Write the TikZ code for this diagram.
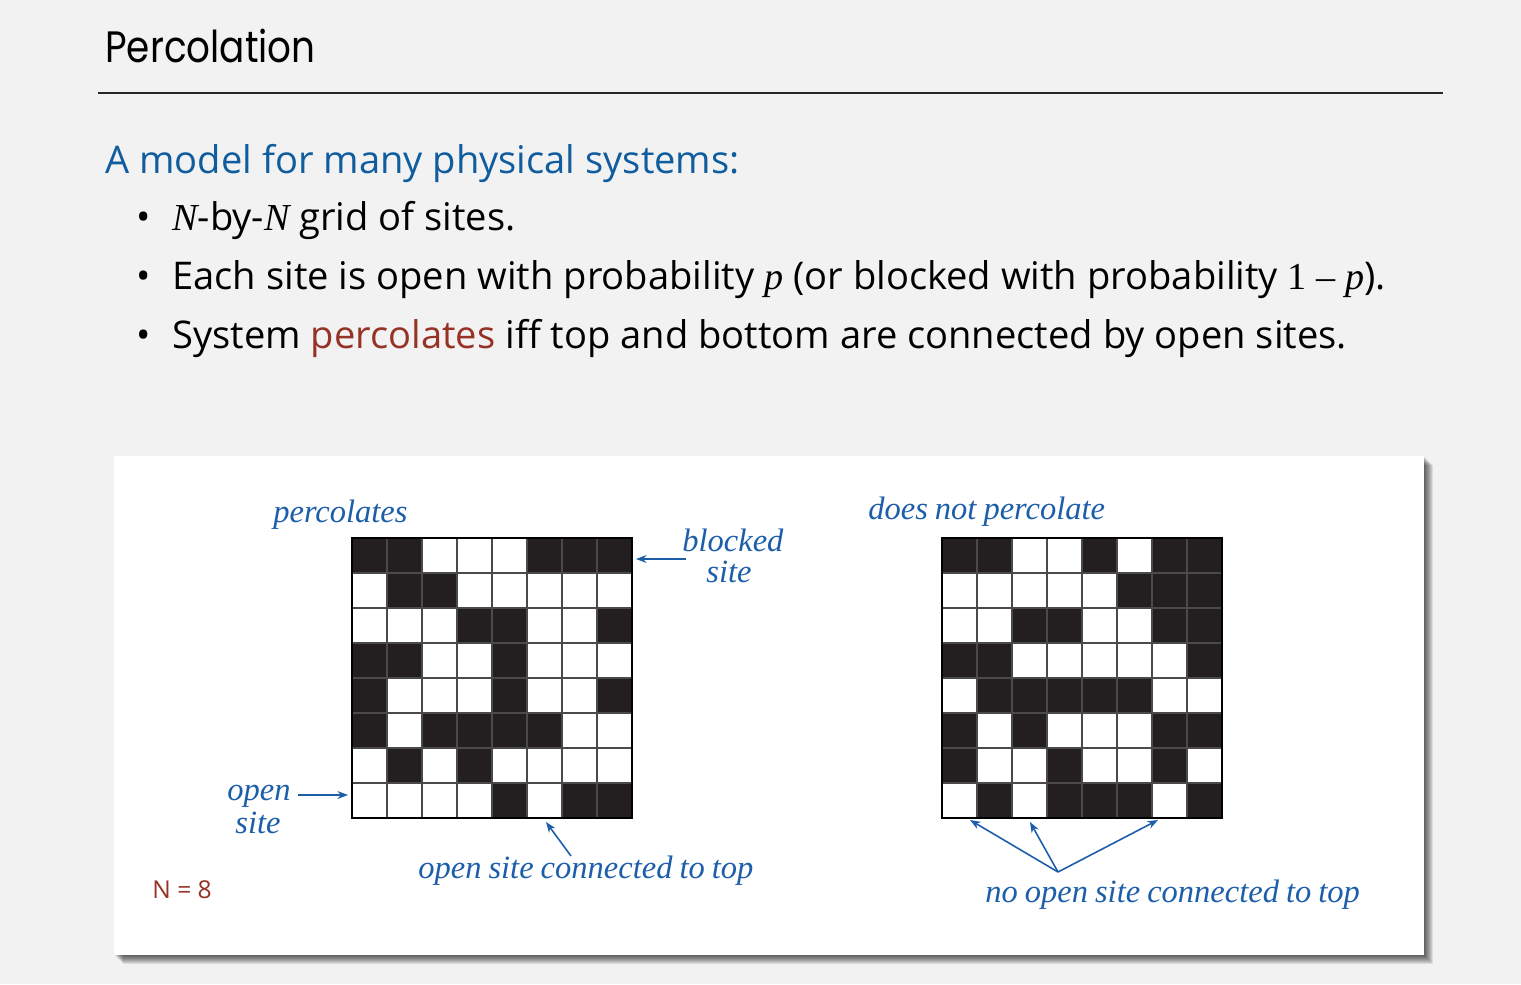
\documentclass[tikz,border=0pt]{standalone}
\usepackage{fontspec}
\setsansfont{Open Sans}
\newfontfamily\titlefont[FakeStretch=0.85]{Poppins}
\newfontfamily\tms{Liberation Serif}
\usetikzlibrary{arrows.meta}
\definecolor{bg}{HTML}{F2F2F2}
\definecolor{headblue}{HTML}{0F5C9E}
\definecolor{labblue}{HTML}{1D5EAB}
\definecolor{brickred}{HTML}{963226}
\definecolor{cell0}{HTML}{FFFFFF}
\definecolor{cell1}{HTML}{231F20}
\definecolor{gridline}{HTML}{4A4A4A}
\newcommand{\labfont}{\tms\itshape\fontsize{18.5}{21}\selectfont\spaceskip=4pt plus 1pt minus 1pt\relax}
\tikzset{
  body/.style={anchor=base west, inner sep=0pt, font=\sffamily\fontsize{21.7}{25}\selectfont},
  bul/.style={anchor=base west, inner sep=0pt, font=\sffamily\fontsize{21.7}{25}\selectfont},
  lab/.style={inner sep=0pt, text=labblue, font=\labfont},
  arr/.style={draw=labblue, line width=0.9pt, -{Stealth[length=6pt,width=4.5pt]}},
}
\newcommand{\perco}[3]{% x0, y0, rows
  \foreach \r/\row in {#3} {
    \foreach \v [count=\c from 0] in \row {
      \fill[cell\v] ({#1+35*\c},{#2+35*\r}) rectangle ++(35,35);
    }
  }
  \foreach \i in {1,...,7} {
    \draw[gridline, line width=0.8pt] ({#1+35*\i},#2) -- ++(0,280);
    \draw[gridline, line width=0.8pt] (#1,{#2+35*\i}) -- ++(280,0);
  }
  \draw[black, line width=1.1pt] (#1,#2) rectangle ++(280,280);
}
\begin{document}
\begin{tikzpicture}[x=0.02cm,y=-0.02cm]
\fill[bg] (0,0) rectangle (1521,984);
\useasboundingbox (0,0) rectangle (1521,984);
% header
\node[anchor=base west, inner sep=0pt, font=\titlefont\fontsize{25}{30}\selectfont] (title) at (105,62) {Percolation};
\draw[line width=0.9pt, black!85] (98,93) -- (1443,93);
\node[body, text=headblue] (intro) at (105,173) {A model for many physical systems:};
\node[bul] (b1) at (136,230) {\textbullet};
\node[body] (t1) at (172,230) {{\tms\itshape N}-by-{\tms\itshape N} grid of sites.};
\node[bul] (b2) at (136,289) {\textbullet};
\node[body] (t2) at (172,289) {Each site is open with probability {\tms\itshape p} (or blocked with probability {\tms 1 – \itshape p}).};
\node[bul] (b3) at (136,348) {\textbullet};
\node[body] (t3) at (172,348) {System \textcolor{brickred}{percolates} iff top and bottom are connected by open sites.};
% panel with shadow
\foreach \k in {1,...,9} {
  \fill[black, opacity=0.09] ({114+\k},{456+\k}) rectangle ({1424+\k},{955+\k});
}
\fill[white] (114,456) rectangle (1424,955);
% grids
\perco{352}{538}{0/{1,1,0,0,0,1,1,1},1/{0,1,1,0,0,0,0,0},2/{0,0,0,1,1,0,0,1},3/{1,1,0,0,1,0,0,0},4/{1,0,0,0,1,0,0,1},5/{1,0,1,1,1,1,0,0},6/{0,1,0,1,0,0,0,0},7/{0,0,0,0,1,0,1,1}}
\perco{942}{538}{0/{1,1,0,0,1,0,1,1},1/{0,0,0,0,0,1,1,1},2/{0,0,1,1,0,0,1,1},3/{1,1,0,0,0,0,0,1},4/{0,1,1,1,1,1,0,0},5/{1,0,1,0,0,0,1,1},6/{1,0,0,1,0,0,1,0},7/{0,1,0,1,1,1,0,1}}
% labels
\node[lab, anchor=base west] (perc) at (273,522) {percolates};
\node[lab, anchor=base west] (dnp) at (868,519) {does not percolate};
\node[lab, anchor=base west] (blk) at (682,551) {blocked};
\node[lab, anchor=base] (blk2) at (729,582) {site};
\node[lab, anchor=base west] (opn) at (227,800) {open};
\node[lab, anchor=base] (opn2) at (258,833) {site};
\node[lab, anchor=base west] (conn) at (418,878) {open site connected to top};
\node[lab, anchor=base west] (noconn) at (985,902) {no open site connected to top};
\node[anchor=base west, inner sep=0pt, text=brickred, font=\sffamily\fontsize{14}{16}\selectfont] (nlab) at (152,898) {N = 8};
% arrow coordinates
\coordinate (blkT) at (686,559);
\coordinate (blkH) at (636,559);
\coordinate (opnT) at (298,795);
\coordinate (opnH) at (348,795);
\coordinate (connT) at (571,856);
\coordinate (connH) at (546,822);
\coordinate (nT) at (1058,872);
\coordinate (nH1) at (970,820);
\coordinate (nH2) at (1030,822);
\coordinate (nH3) at (1158,820);
\draw[arr] (blkT) -- (blkH);
\draw[arr] (opnT) -- (opnH);
\draw[arr] (connT) -- (connH);
\draw[arr] (nT) -- (nH1);
\draw[arr] (nT) -- (nH2);
\draw[arr] (nT) -- (nH3);
\end{tikzpicture}
\end{document}
